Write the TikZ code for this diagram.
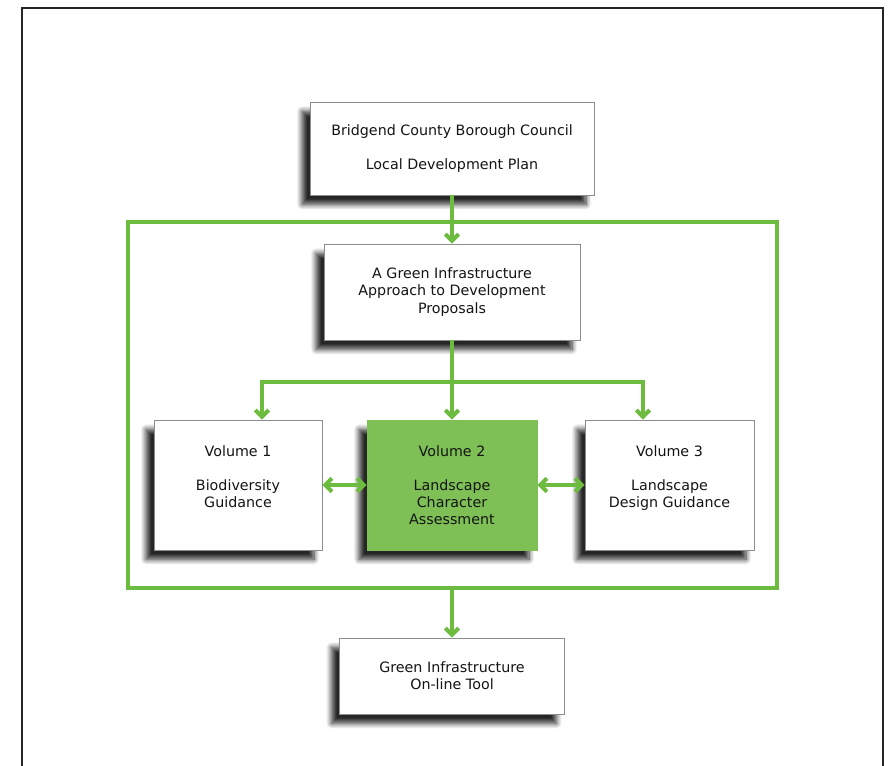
\documentclass[tikz,border=0pt]{standalone}
\usepackage{fontspec}
\setmainfont{DejaVu Sans}
\usetikzlibrary{arrows.meta,shadows.blur}
\definecolor{gigreen}{RGB}{109,187,63}
\definecolor{gifill}{RGB}{126,192,86}
\def\px{0.75pt}
\tikzset{
  docbox/.style={draw=black!45, line width=0.6pt, fill=white, align=center, inner sep=0pt,
    text=black!92, font=\fontsize{10.7}{12.8}\selectfont,
    blur shadow={shadow xshift=-6pt, shadow yshift=-7pt, shadow blur radius=4pt,
      shadow blur steps=8, shadow opacity=85}},
  greenline/.style={draw=gigreen, line width=3pt},
  flow/.style={greenline, -{Straight Barb[length=5pt,width=10pt]}},
  flowboth/.style={greenline, {Straight Barb[length=5pt,width=10pt]}-{Straight Barb[length=5pt,width=10pt]}},
}
\begin{document}
\begin{tikzpicture}[x=0.75pt,y=-0.75pt]
	%%%%% START %%%%%
	\useasboundingbox (0,0) rectangle (890,765);
	
	% page frame, open at the bottom
	\draw[line width=1.6pt, color=black!85] (22,775) -- (22,8) -- (883,8) -- (883,775);
	
	\node[docbox, minimum width=284*\px, minimum height=93*\px] (ldp) at (452,148.5)
		{Bridgend County Borough Council\\[\baselineskip]Local Development Plan};
	
	\draw[greenline] (128,222) rectangle (777,588);
	
	\node[docbox, minimum width=256*\px, minimum height=96*\px] (gia) at (452,292)
		{A Green Infrastructure\\Approach to Development\\Proposals};
	
	\node[docbox, minimum width=168*\px, minimum height=130*\px] (vol1) at (238,485)
		{Volume 1\\[\baselineskip]Biodiversity\\Guidance\\\mbox{}};
	\node[docbox, fill=gifill, draw=gifill, minimum width=170*\px, minimum height=130*\px] (vol2) at (452,485)
		{Volume 2\\[\baselineskip]Landscape\\Character\\Assessment};
	\node[docbox, minimum width=169*\px, minimum height=130*\px] (vol3) at (669.5,485)
		{Volume 3\\[\baselineskip]Landscape\\Design Guidance\\\mbox{}};
	
	\node[docbox, minimum width=225*\px, minimum height=76*\px] (tool) at (452,676)
		{Green Infrastructure\\On-line Tool};
	
	\draw[flow] (ldp) -- (gia);
	
	\coordinate (split) at (452,382);
	\coordinate (v1x) at (262,382);
	\coordinate (v3x) at (643,382);
	\draw[greenline] (gia) -- (split);
	\draw[flow] (split) -| (vol1.north -| v1x);
	\draw[flow] (split) -| (vol3.north -| v3x);
	\draw[flow] (split) -- (split |- vol2.north);
	
	\draw[flowboth] (vol1) -- (vol2);
	\draw[flowboth] (vol2) -- (vol3);
	
	\coordinate (gbase) at (452,588);
	\draw[flow] (gbase) -- (tool);
	
	%%%%% END %%%%%
\end{tikzpicture}
\end{document}
